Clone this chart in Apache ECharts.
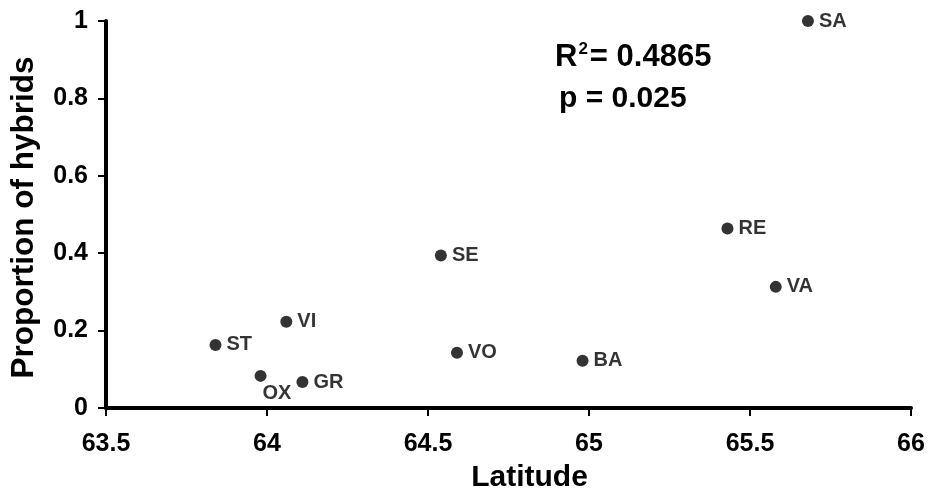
<!DOCTYPE html>
<html>
<head>
<meta charset="utf-8">
<script src="https://cdn.jsdelivr.net/npm/echarts@6/dist/echarts.min.js"></script>
<style>
html,body{margin:0;padding:0;background:#fff;}
#chart{width:930px;height:500px;}
</style>
</head>
<body>
<div id="chart"></div>
<script>
const sites = ['ST','VI','OX','GR','SE','VO','BA','RE','VA','SA'];
const latitude = [63.84, 64.06, 63.98, 64.11, 64.54, 64.59, 64.98, 65.43, 65.58, 65.68];
const proportion = [0.163, 0.223, 0.083, 0.067, 0.394, 0.143, 0.122, 0.464, 0.313, 1.0];
const xTicks = { min: 63.5, max: 66, interval: 0.5 };
const yTicks = { min: 0, max: 1, interval: 0.2 };
const xTitle = 'Latitude';
const yTitle = 'Proportion of hybrids';
const statR2 = '0.4865';
const statP = '0.025';

const FONT = '"Liberation Sans", Arial, sans-serif';
const chart = echarts.init(document.getElementById('chart'), null, {renderer: 'canvas'});

const points = sites.map((s, i) => {
  const item = { name: s, value: [latitude[i], proportion[i]] };
  if (s === 'OX') {
    item.label = { position: 'bottom', align: 'left', offset: [2, 0], distance: 2 };
  }
  return item;
});

chart.setOption({
  backgroundColor: '#ffffff',
  animation: false,
  grid: { left: 105, right: 19, top: 21, bottom: 92, containLabel: false },
  xAxis: {
    type: 'value',
    min: xTicks.min, max: xTicks.max, interval: xTicks.interval,
    name: xTitle,
    nameLocation: 'middle',
    nameGap: 55,
    nameTextStyle: { fontFamily: FONT, fontWeight: 'bold', fontSize: 30, color: '#000', padding: [0, 0, 0, 42] },
    axisLine: { show: true, onZero: false, lineStyle: { color: '#000', width: 4 } },
    axisTick: { show: true, length: 8, lineStyle: { color: '#000', width: 2 } },
    axisLabel: { fontFamily: FONT, fontWeight: 'bold', fontSize: 25, color: '#000', margin: 24 },
    splitLine: { show: false }
  },
  yAxis: {
    type: 'value',
    min: yTicks.min, max: yTicks.max, interval: yTicks.interval,
    name: yTitle,
    nameLocation: 'middle',
    nameRotate: 90,
    nameGap: 66,
    nameTextStyle: { fontFamily: FONT, fontWeight: 'bold', fontSize: 31.5, color: '#000', padding: [0, 6, 0, 0] },
    axisLine: { show: true, onZero: false, lineStyle: { color: '#000', width: 4 } },
    axisTick: { show: true, length: 8, lineStyle: { color: '#000', width: 2 } },
    axisLabel: { fontFamily: FONT, fontWeight: 'bold', fontSize: 25, color: '#000', margin: 18 },
    splitLine: { show: false }
  },
  graphic: [
    {
      type: 'text', left: 555, top: 41,
      style: {
        text: '{a|R}{s|2}{a|= ' + statR2 + '}',
        rich: {
          a: { fontFamily: FONT, fontWeight: 'bold', fontSize: 31, fill: '#000', lineHeight: 32 },
          s: { fontFamily: FONT, fontWeight: 'bold', fontSize: 17, fill: '#000', verticalAlign: 'top', lineHeight: 32, padding: [0, 2, 14, 1] }
        }
      }
    },
    {
      type: 'text', left: 559, top: 84,
      style: { text: 'p = ' + statP, fontFamily: FONT, fontWeight: 'bold', fontSize: 30, fill: '#000' }
    }
  ],
  series: [{
    type: 'scatter',
    symbol: 'circle',
    symbolSize: 12,
    itemStyle: { color: '#000' },
    label: {
      show: true,
      formatter: p => p.name,
      position: 'right',
      distance: 5,
      fontFamily: FONT, fontWeight: 'bold', fontSize: 20, color: '#000'
    },
    data: points
  }]
});
</script>
</body>
</html>
